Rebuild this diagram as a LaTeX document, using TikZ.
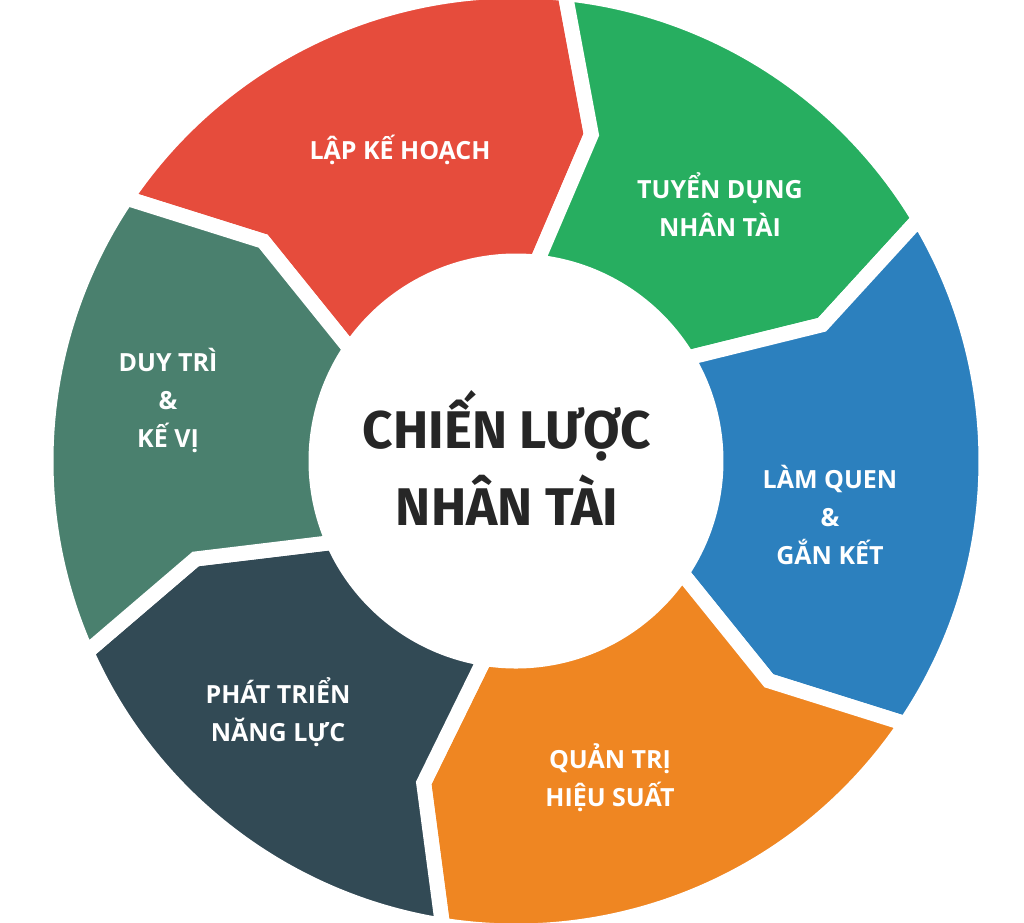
\documentclass[tikz,border=0pt]{standalone}
\usepackage{fontspec}
\setmainfont{Open Sans}
\newfontfamily\ctrfont{Fira Sans}
\definecolor{cred}{HTML}{E64C3C}
\definecolor{cgreen}{HTML}{27AE60}
\definecolor{cblue}{HTML}{2C80BE}
\definecolor{corange}{HTML}{EF8622}
\definecolor{cdark}{HTML}{324A55}
\definecolor{cteal}{HTML}{4A806E}
\tikzset{seg/.style={fill=#1,draw=white,line width=15pt,line join=miter},
lbl/.style={text=white,font=\bfseries\fontsize{25}{38}\selectfont,align=center}}
\newcommand\segm[3]{\path[seg=#1] (#2:470) arc[start angle=#2,end angle=#3,radius=470] -- (#3-7:335) -- (#3:200) arc[start angle=#3,end angle=#2,radius=200] -- (#2-7:335) -- cycle;}
\begin{document}
\begin{tikzpicture}[x=1pt,y=1pt]
\fill[white] (-516,-461) rectangle (508,461);
\useasboundingbox (-516,-461) rectangle (508,461);
\segm{cred}{146}{84}
\segm{cgreen}{84}{31}
\segm{cblue}{31}{-34}
\segm{corange}{-34}{-99}
\segm{cdark}{-99}{-156}
\segm{cteal}{204}{146}
\node[lbl] (l1) at (-116,311) {LẬP KẾ HOẠCH};
\node[lbl] (l2) at (204,256) {TUYỂN DỤNG\\NHÂN TÀI};
\node[lbl] (l3) at (314,-54) {LÀM QUEN\\\&\\GẮN KẾT};
\node[lbl] (l4) at (94,-317) {QUẢN TRỊ\\HIỆU SUẤT};
\node[lbl] (l5) at (-238,-251) {PHÁT TRIỂN\\NĂNG LỰC};
\node[lbl] (l6) at (-348,61) {DUY TRÌ\\\&\\KẾ VỊ};
\node[font=\ctrfont\bfseries\fontsize{53}{77}\selectfont,text=black!85,align=center] (c) at (-9,3) {CHIẾN LƯỢC\\NHÂN TÀI};
\end{tikzpicture}
\end{document}
